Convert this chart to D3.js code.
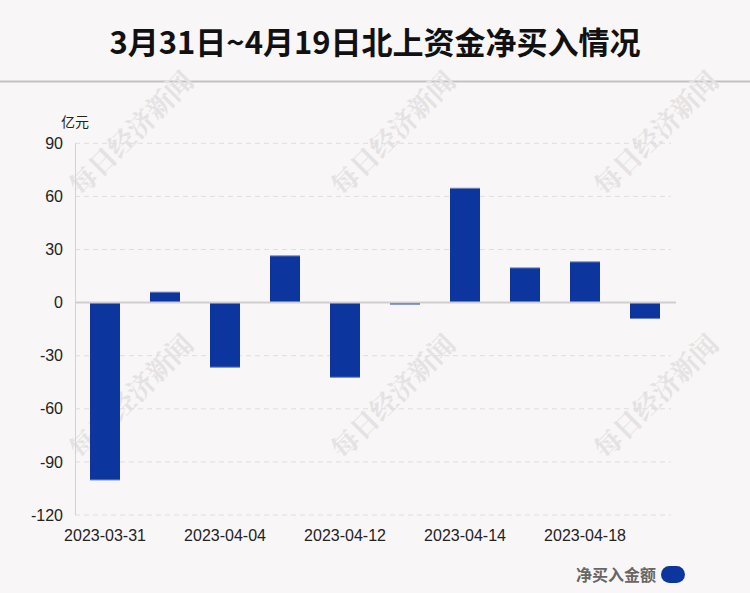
<!DOCTYPE html>
<html><head><meta charset="utf-8">
<script src="https://cdn.jsdelivr.net/npm/d3@7"></script>
<style>
html,body{margin:0;padding:0;background:#f9f6f7;}
svg{display:block;}
</style></head>
<body>
<svg id="c" width="750" height="593"></svg>
<script>
const title = "3月31日~4月19日北上资金净买入情况";
const categories = ["2023-03-31","2023-04-03","2023-04-04","2023-04-06","2023-04-12","2023-04-13","2023-04-14","2023-04-17","2023-04-18","2023-04-19"];
const shownLabels = ["2023-03-31","2023-04-04","2023-04-12","2023-04-14","2023-04-18"];
const values = [-100.2, 5.9, -36.5, 26.4, -42.2, -0.9, 64.6, 19.6, 23.0, -9.0];
const yTicks = [90, 60, 30, 0, -30, -60, -90, -120];
const unitLabel = "亿元";
const seriesName = "净买入金额";
const watermark = "每日经济新闻";

const svg = d3.select("#c");
const W = 750, H = 593;
const cjk = "'Noto Sans CJK SC', 'Noto Sans', sans-serif";
const lat = "'Liberation Sans', Arial, sans-serif";

svg.append("rect").attr("width", W).attr("height", H).attr("fill", "#f9f6f7");

// title
svg.append("text").attr("x", 375).attr("y", 40).attr("text-anchor", "middle")
  .attr("dominant-baseline", "central")
  .attr("font-family", cjk).attr("font-weight", "bold").attr("font-size", 31)
  .attr("fill", "#111").text(title);
svg.append("line").attr("x1", 0).attr("x2", W).attr("y1", 81.5).attr("y2", 81.5)
  .attr("stroke", "#c3c1c2").attr("stroke-width", 2);

const x = d3.scaleBand().domain(categories).range([75, 675]).paddingInner(0.5).paddingOuter(0.25);
const y = d3.scaleLinear().domain([-120, 90]).range([515, 143.3]);

// watermark grid
const wmG = svg.append("g");
[130, 392, 655].forEach(cx => {
  [132, 395].forEach(cy => {
    wmG.append("text").attr("transform", `translate(${cx},${cy}) rotate(-45)`)
      .attr("text-anchor", "middle").attr("dominant-baseline", "central")
      .attr("font-family", "'Noto Serif CJK SC', 'Noto Sans CJK SC', sans-serif").attr("font-weight", "bold").attr("font-size", 27)
      .attr("fill", "#e5e2e3").text(watermark);
  });
});

// gridlines
const grid = svg.append("g");
yTicks.filter(t => t !== 0).forEach(t => {
  grid.append("line").attr("x1", 75).attr("x2", 671).attr("y1", y(t)).attr("y2", y(t))
    .attr("stroke", "#e0dddf").attr("stroke-dasharray", "5,4").attr("stroke-width", 1);
});

// y axis line
svg.append("line").attr("x1", 75.5).attr("x2", 75.5).attr("y1", 143).attr("y2", 515)
  .attr("stroke", "#d4d2d3").attr("stroke-width", 1);

// y axis labels via d3 axis
const yAxis = svg.append("g").attr("transform", "translate(63,0)")
  .call(d3.axisLeft(y).tickValues(yTicks).tickFormat(d => String(d)).tickSize(0).tickPadding(0));
yAxis.select(".domain").remove();
yAxis.selectAll("text").attr("font-family", lat).attr("font-size", 16).attr("fill", "#222");

svg.append("text").attr("x", 75).attr("y", 121).attr("text-anchor", "middle")
  .attr("dominant-baseline", "central")
  .attr("font-family", cjk).attr("font-size", 14).attr("fill", "#222").text(unitLabel);

// bars
const bars = svg.append("g");
categories.forEach((c, i) => {
  const v = values[i];
  const y0 = y(0), y1 = y(v);
  bars.append("rect").attr("x", x(c)).attr("width", x.bandwidth())
    .attr("y", Math.min(y0, y1)).attr("height", Math.abs(y1 - y0))
    .attr("fill", "#0d359e");
  bars.append("line").attr("x1", x(c)).attr("x2", x(c) + x.bandwidth())
    .attr("y1", y1).attr("y2", y1).attr("stroke", "#6f86c4").attr("stroke-width", 1);
});

// zero line
svg.append("line").attr("x1", 75).attr("x2", 676).attr("y1", y(0)).attr("y2", y(0))
  .attr("stroke", "#d0cdce").attr("stroke-width", 2);

// x axis labels
const xAxis = svg.append("g").attr("transform", "translate(0,515)")
  .call(d3.axisBottom(x).tickValues(shownLabels).tickSize(0).tickPadding(15));
xAxis.select(".domain").remove();
xAxis.selectAll("text").attr("font-family", lat).attr("font-size", 16).attr("fill", "#222");

// legend
svg.append("text").attr("x", 656).attr("y", 574).attr("text-anchor", "end")
  .attr("dominant-baseline", "central")
  .attr("font-family", cjk).attr("font-weight", "bold").attr("font-size", 16)
  .attr("fill", "#666").text(seriesName);
svg.append("rect").attr("x", 661).attr("y", 566).attr("width", 24).attr("height", 17)
  .attr("rx", 8.5).attr("fill", "#0d359e");
</script>
</body></html>
